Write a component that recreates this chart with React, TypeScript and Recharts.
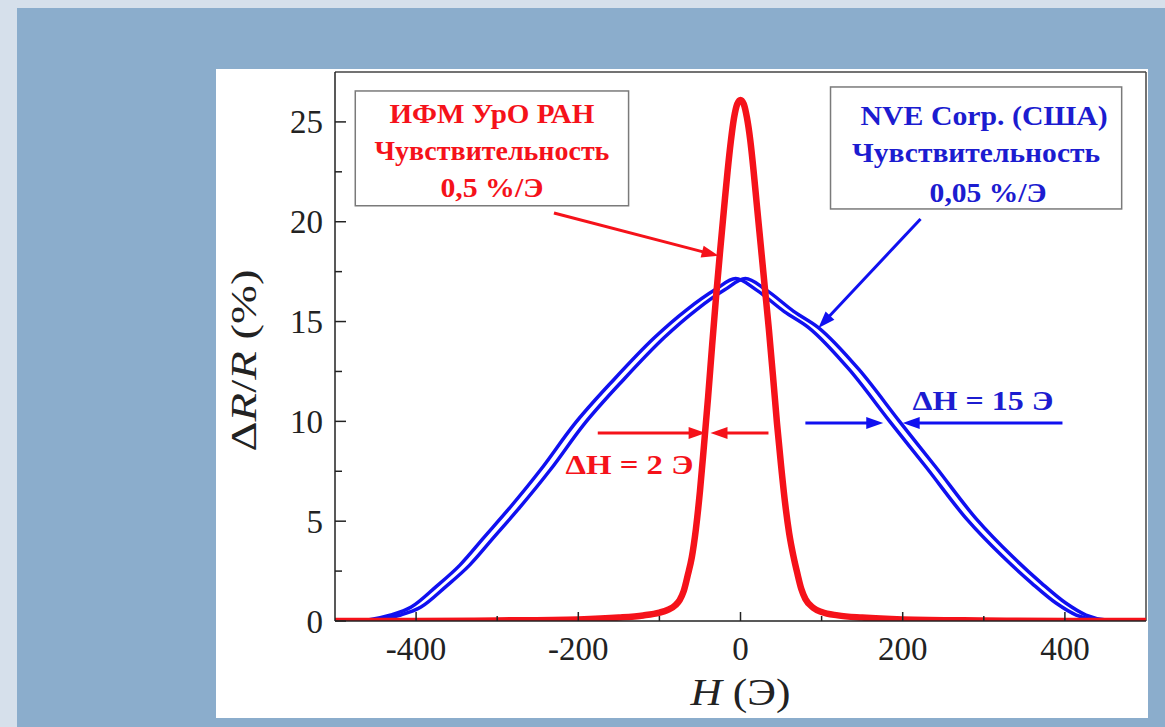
import { LineChart, Line, XAxis, YAxis, ReferenceLine, ReferenceArea, ReferenceDot, Label } from 'recharts'

// H (Oe) / ΔR/R (%) — IFM UrO RAN sample (red)
const redH = [-500, -400, -300, -200, -150, -120, -100, -90, -80, -75, -70, -65, -60, -55, -50, -45, -40, -35, -30, -25, -20, -16, -12, -8, -4, 0, 4, 8, 12, 16, 20, 25, 30, 35, 40, 45, 50, 55, 60, 65, 70, 75, 80, 90, 100, 120, 150, 200, 300, 400, 500]
const redR = [0, 0, 0.03, 0.08, 0.17, 0.28, 0.42, 0.55, 0.8, 1.05, 1.5, 2.3, 3.2, 4.6, 6.5, 8.8, 11.2, 13.8, 16.3, 18.6, 20.8, 22.5, 24.0, 25.2, 25.9, 26.1, 25.9, 25.2, 24.1, 22.6, 20.9, 18.8, 16.7, 14.6, 12.3, 9.9, 7.8, 5.9, 4.4, 3.3, 2.4, 1.6, 1.1, 0.65, 0.45, 0.28, 0.17, 0.08, 0.03, 0, 0]

// NVE Corp. sensor (blue), two sweep branches
const blueUpH = [-476, -456, -431, -406, -376, -346, -316, -286, -246, -206, -156, -106, -66, -31, -6, 19, 54, 84, 134, 184, 229, 279, 324, 359, 389, 414, 439, 464]
const blueDownH = [-464, -444, -419, -394, -364, -334, -304, -274, -234, -194, -144, -94, -54, -19, 6, 31, 66, 96, 146, 196, 241, 291, 336, 371, 401, 426, 451, 476]
const blueR = [0, 0.08, 0.3, 0.7, 1.7, 2.8, 4.2, 5.6, 7.6, 9.8, 12.1, 14.2, 15.6, 16.6, 17.15, 16.6, 15.5, 14.7, 12.6, 10.0, 7.7, 5.1, 3.2, 1.9, 0.9, 0.3, 0.05, 0]

const xTicks = [-400, -300, -200, -100, 0, 100, 200, 300, 400]
const xLabels = [-400, -200, 0, 200, 400]
const yTicks = [0, 2.5, 5, 7.5, 10, 12.5, 15, 17.5, 20, 22.5, 25]
const yLabels = [0, 5, 10, 15, 20, 25]

const redBoxLines = ['ИФМ УрО РАН', 'Чувствительность', '0,5 %/Э']
const blueBoxLines = ['NVE Corp. (США)', 'Чувствительность', '0,05 %/Э']
const redDelta = 'ΔH = 2 Э'
const blueDelta = 'ΔH = 15 Э'

const RED = '#f5121a'
const BLUE = '#1010f0'
const BLUE_TEXT = '#1c1cd0'
const SERIF = '"Liberation Serif", "Times New Roman", serif'

const redData = redH.map((h, i) => ({ h, r: redR[i] }))
const blueUp = blueUpH.map((h, i) => ({ h, r: blueR[i] }))
const blueDown = blueDownH.map((h, i) => ({ h, r: blueR[i] }))

function XTick(p: any) {
  const v = p.payload.value
  const major = xLabels.includes(v)
  return (
    <g>
      <line x1={p.x} x2={p.x} y1={p.y} y2={p.y - (major ? 9 : 5)} stroke="#222" strokeWidth={1.5} />
      {major && (
        <text x={p.x} y={p.y + 39} textAnchor="middle" fontFamily={SERIF} fontSize={33} fill="#222">
          {v}
        </text>
      )}
    </g>
  )
}

function YTick(p: any) {
  const v = p.payload.value
  const major = yLabels.includes(v)
  return (
    <g>
      <line x1={p.x} x2={p.x + (major ? 11 : 7)} y1={p.y} y2={p.y} stroke="#222" strokeWidth={1.5} />
      {major && (
        <text x={p.x - 12} y={p.y + 11.5} textAnchor="end" fontFamily={SERIF} fontSize={33} fill="#222">
          {v}
        </text>
      )}
    </g>
  )
}

function arrow(color: string, w: number) {
  return (p: any) => {
    const { x1, y1, x2, y2 } = p
    const dx = x2 - x1
    const dy = y2 - y1
    const len = Math.hypot(dx, dy) || 1
    const ux = dx / len
    const uy = dy / len
    const hl = 17
    const hw = 6
    const bx = x2 - ux * hl
    const by = y2 - uy * hl
    return (
      <g>
        <line x1={x1} y1={y1} x2={bx + ux * 2} y2={by + uy * 2} stroke={color} strokeWidth={w} />
        <polygon points={`${x2},${y2} ${bx - uy * hw},${by + ux * hw} ${bx + uy * hw},${by - ux * hw}`} fill={color} />
      </g>
    )
  }
}

function box(lines: string[], color: string, baselines: number[], shifts: number[], lengths: number[]) {
  return (p: any) => {
    const { x, y, width, height } = p
    const cx = x + width / 2
    return (
      <g>
        <rect x={x} y={y} width={width} height={height} fill="#fff" stroke="#7a7a7a" strokeWidth={1.5} />
        {lines.map((t, i) => (
          <text
            key={i}
            x={cx + shifts[i]}
            y={y + baselines[i]}
            textAnchor="middle"
            fontFamily={SERIF}
            fontWeight="bold"
            fontSize={27}
            fill={color}
            textLength={lengths[i]}
            lengthAdjust="spacingAndGlyphs"
          >
            {t}
          </text>
        ))}
      </g>
    )
  }
}

function note(text: string, color: string, len: number) {
  return (p: any) => (
    <text x={p.cx} y={p.cy} textAnchor="middle" fontFamily={SERIF} fontWeight="bold" fontSize={28} fill={color} textLength={len} lengthAdjust="spacingAndGlyphs">
      {text}
    </text>
  )
}

function YTitle(p: any) {
  const vb = p.viewBox
  const cx = vb.x + 40
  const cy = vb.y + vb.height / 2 + 14
  return (
    <text transform={`translate(${cx},${cy}) rotate(-90)`} textAnchor="middle" fontFamily={SERIF} fontSize={36} fill="#222" textLength={182} lengthAdjust="spacingAndGlyphs">
      Δ<tspan fontStyle="italic">R</tspan>/<tspan fontStyle="italic">R</tspan> (%)
    </text>
  )
}

function XTitle(p: any) {
  const vb = p.viewBox
  return (
    <text x={vb.x + vb.width / 2} y={vb.y + 84} textAnchor="middle" fontFamily={SERIF} fontSize={38} fill="#222" textLength={100} lengthAdjust="spacingAndGlyphs">
      <tspan fontStyle="italic">H</tspan> (Э)
    </text>
  )
}

export default function App() {
  return (
    <div style={{ position: 'absolute', left: 0, top: 0, width: 1165, height: 727, background: '#d6e0eb', overflow: 'hidden' }}>
      <div style={{ position: 'absolute', left: 17, top: 8, width: 1148, height: 719, background: '#8badcc' }} />
      <div style={{ position: 'absolute', left: 216, top: 69, width: 932, height: 649, background: '#fff' }}>
        <LineChart width={932} height={649} margin={{ top: 3, right: 2, left: 0, bottom: 0 }}>
          <XAxis
            type="number"
            dataKey="h"
            domain={[-500, 500]}
            ticks={xTicks}
            interval={0}
            tick={(p: any) => <XTick {...p} />}
            tickLine={false}
            tickSize={0}
            tickMargin={0}
            height={97}
            axisLine={{ stroke: '#222', strokeWidth: 1.5 }}
            allowDataOverflow
          >
            <Label content={XTitle} />
          </XAxis>
          <YAxis
            type="number"
            domain={[0, 27.5]}
            ticks={yTicks}
            interval={0}
            tick={(p: any) => <YTick {...p} />}
            tickLine={false}
            tickSize={0}
            tickMargin={0}
            width={119}
            axisLine={{ stroke: '#222', strokeWidth: 1.5 }}
            allowDataOverflow
          >
            <Label content={YTitle} />
          </YAxis>
          <ReferenceLine y={27.5} stroke="#444" strokeWidth={1.5} />
          <ReferenceLine x={500} stroke="#444" strokeWidth={1.5} />

          <Line data={blueUp} dataKey="r" type="monotone" stroke={BLUE} strokeWidth={3.5} dot={false} isAnimationActive={false} />
          <Line data={blueDown} dataKey="r" type="monotone" stroke={BLUE} strokeWidth={3.5} dot={false} isAnimationActive={false} />
          <Line data={redData} dataKey="r" type="monotone" stroke={RED} strokeWidth={6.5} dot={false} isAnimationActive={false} />

          <ReferenceArea x1={-475} x2={-138} y1={20.8} y2={26.55} shape={box(redBoxLines, RED, [32, 69, 106], [0, 0, 0], [205, 235, 103])} />
          <ReferenceArea x1={111} x2={470} y1={20.64} y2={26.75} shape={box(blueBoxLines, BLUE_TEXT, [38, 75, 115], [8, 0, 12], [247, 248, 117])} />

          <ReferenceLine segment={[{ x: -230, y: 20.44 }, { x: -27, y: 18.29 }]} shape={arrow(RED, 3)} />
          <ReferenceLine segment={[{ x: 222, y: 20.14 }, { x: 96, y: 14.68 }]} shape={arrow(BLUE, 3)} />
          <ReferenceLine segment={[{ x: -176, y: 9.42 }, { x: -43, y: 9.42 }]} shape={arrow(RED, 3)} />
          <ReferenceLine segment={[{ x: 34.5, y: 9.42 }, { x: -37, y: 9.42 }]} shape={arrow(RED, 3)} />
          <ReferenceLine segment={[{ x: 80, y: 9.92 }, { x: 176, y: 9.92 }]} shape={arrow(BLUE, 3)} />
          <ReferenceLine segment={[{ x: 397, y: 9.92 }, { x: 200, y: 9.92 }]} shape={arrow(BLUE, 3)} />

          <ReferenceDot x={-137} y={7.36} r={0} shape={note(redDelta, RED, 128)} />
          <ReferenceDot x={299} y={10.57} r={0} shape={note(blueDelta, BLUE_TEXT, 141)} />
        </LineChart>
      </div>
    </div>
  )
}
